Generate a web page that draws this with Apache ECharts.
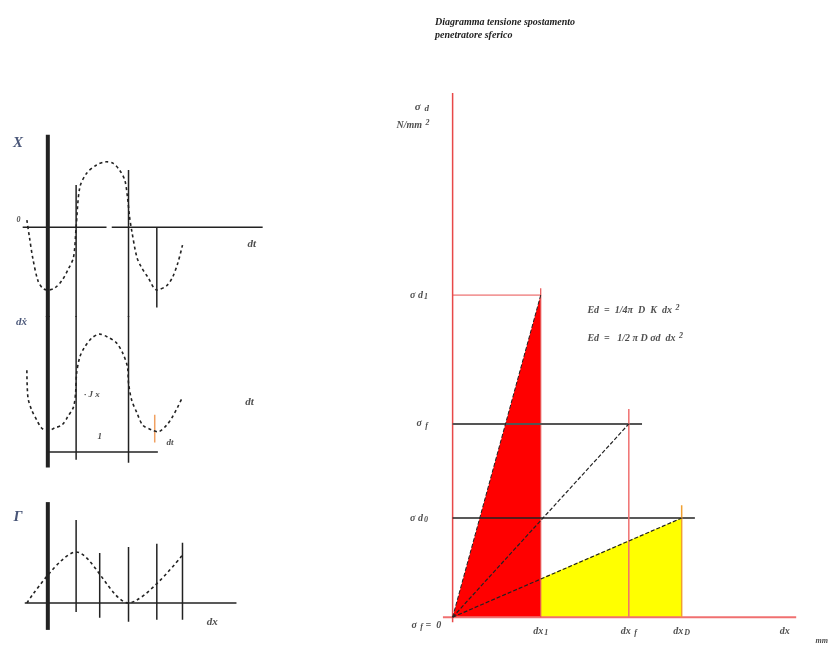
<!DOCTYPE html>
<html>
<head>
<meta charset="utf-8">
<script src="https://cdn.jsdelivr.net/npm/echarts@6/dist/echarts.min.js"></script>
<style>
html, body { margin: 0; padding: 0; background: #fff; }
#main { width: 832px; height: 648px; }
</style>
</head>
<body>
<div id="main"></div>
<script>
// ---- left panels: x(t), dx(t), Gamma(t) --------------------------------
var dispCurve = [[0.06,0.11],[0.11,-0.16],[0.17,-0.47],[0.27,-0.83],[0.36,-0.95],[0.46,-0.98],
    [0.59,-0.95],[0.73,-0.83],[0.84,-0.67],[0.95,-0.47],[1.0,0],[1.07,0.62],[1.2,0.84],[1.39,0.97],
    [1.58,1.02],[1.7,1.0],[1.83,0.89],[1.93,0.73],[1.98,0.47],[2.02,0.16],[2.06,-0.05],[2.16,-0.47],
    [2.25,-0.63],[2.37,-0.78],[2.54,-0.98],[2.73,-0.91],[2.84,-0.78],[2.94,-0.56],[3.03,-0.28]];
var veloCurve = [[0.06,0.24],[0.08,-0.31],[0.15,-0.57],[0.25,-0.78],[0.34,-0.94],[0.46,-1.0],
    [0.59,-0.94],[0.73,-0.88],[0.84,-0.71],[0.95,-0.51],[0.99,-0.22],[1.01,0.18],[1.07,0.51],
    [1.16,0.71],[1.3,0.9],[1.45,0.98],[1.6,0.92],[1.77,0.8],[1.89,0.59],[1.98,0.31],[2.0,-0.02],
    [2.06,-0.37],[2.16,-0.63],[2.27,-0.88],[2.44,-0.98],[2.56,-1.02],[2.73,-0.88],[2.84,-0.71],
    [2.94,-0.51],[3.03,-0.31]];
var gammaCurve = [[0.06,0],[1.0,1.0],[2.0,0],[3.03,0.94]];

// vertical marks [t, top, bottom]
var dispMarks = [[1.0,0.66,-1.4],[2.0,0.89,-1.4],[2.54,0,-1.25]];
var veloMarks = [[1.0,1.35,-1.59],[2.0,1.35,-1.65]];
var gammaMarks = [[1.0,1.63,-0.18],[1.45,0.98,-0.29],[2.0,1.1,-0.37],[2.54,1.16,-0.33],[3.03,1.18,-0.33]];
var tAxisPos = 0.46;

// ---- right panel: tensione / spostamento -------------------------------
var dxTicks = [1.0, 2.0, 2.6];            // dx1, dx f, dx D
var sigmaTicks = [1.0, 1.95, 3.25];       // sigma d0, sigma f, sigma d1
var yellowStart = 0.39;                   // yellow edge at dx1
var xAxisEnd = 3.9, yAxisEnd = 5.29;

var chart = echarts.init(document.getElementById('main'));
var serif = '"Liberation Serif", "DejaVu Serif", serif';
var INK = '#222';

/**
 * segmento semplice su una griglia
 */
function seg(grid, pts, color, width, type, z) {
    return {
        type: 'line', xAxisIndex: grid, yAxisIndex: grid,
        data: pts, symbol: 'none', silent: true, animation: false, z: z || 3,
        lineStyle: { color: color, width: width, type: type || 'solid' }
    };
}

function curve(grid, pts) {
    var s = seg(grid, pts, INK, 1.6, [3, 3], 4);
    s.smooth = 0.3;
    return s;
}

function marks(grid, list, color, width) {
    return list.map(function (m) {
        return seg(grid, [[m[0], m[1]], [m[0], m[2]]], color, width);
    });
}

/**
 * etichette come scatter invisibili
 */
function labels(grid, items) {
    return {
        type: 'scatter', xAxisIndex: grid, yAxisIndex: grid, clip: false,
        symbolSize: 1, itemStyle: { color: 'rgba(0,0,0,0)' }, silent: true, z: 10,
        data: items.map(function (it) {
            var size = it[5] || 10;
            var txt = { fontSize: size - 2, fontStyle: 'italic', fontWeight: 'bold', fontFamily: serif, color: it[6] || INK };
            return {
                value: [it[0], it[1]],
                label: {
                    show: true, formatter: it[2], position: it[3] || 'inside',
                    align: it[4] || 'center', verticalAlign: 'middle',
                    fontFamily: serif, fontStyle: 'italic', fontWeight: 'bold',
                    fontSize: size, color: it[6] || INK,
                    rich: {
                        sub: Object.assign({ padding: [4, 0, 0, 1] }, txt),
                        sup: Object.assign({ padding: [0, 0, 5, 1] }, txt)
                    }
                }
            };
        })
    };
}

function axis(min, max, idx) {
    return { type: 'value', min: min, max: max, gridIndex: idx, show: false };
}

var series = [];

// fills (right)
series.push({
    type: 'line', xAxisIndex: 3, yAxisIndex: 3, symbol: 'none', silent: true, z: 1,
    data: [[0, 0], [dxTicks[0], sigmaTicks[2]], [dxTicks[0], 0]],
    lineStyle: { width: 0 }, areaStyle: { color: '#ff0000', opacity: 1 }
});
series.push({
    type: 'line', xAxisIndex: 3, yAxisIndex: 3, symbol: 'none', silent: true, z: 1,
    data: [[dxTicks[0], yellowStart], [dxTicks[2], sigmaTicks[0]], [dxTicks[2], 0]],
    lineStyle: { width: 0 }, areaStyle: { color: '#ffff00', opacity: 1 }
});

// right panel lines
series.push(seg(3, [[-0.11, 0], [xAxisEnd, 0]], '#f07070', 2));
series.push(seg(3, [[0, -0.05], [0, yAxisEnd]], '#e84848', 1.5));
series.push(seg(3, [[0, sigmaTicks[2]], [dxTicks[0], sigmaTicks[2]]], '#e85050', 1));
series.push(seg(3, [[dxTicks[0], 0], [dxTicks[0], 3.32]], '#e85050', 1.2));
series.push(seg(3, [[0, sigmaTicks[1]], [2.15, sigmaTicks[1]]], '#555', 2));
series.push(seg(3, [[0, sigmaTicks[0]], [2.75, sigmaTicks[0]]], INK, 1.5));
series.push(seg(3, [[dxTicks[1], 0], [dxTicks[1], 2.1]], '#f07070', 1.5));
series.push(seg(3, [[dxTicks[2], 0], [dxTicks[2], 1.13]], '#f0a030', 1.5));
series.push(seg(3, [[0, 0], [dxTicks[0], sigmaTicks[2]]], INK, 1, [4, 2], 4));
series.push(seg(3, [[0, 0], [dxTicks[1], sigmaTicks[1]]], INK, 1.2, [4, 2], 4));
series.push(seg(3, [[0, 0], [dxTicks[2], sigmaTicks[0]]], INK, 1.2, [4, 2], 4));

// panel 1
series.push(seg(0, [[-0.02, 0], [1.58, 0]], INK, 1.5));
series.push(seg(0, [[1.68, 0], [4.56, 0]], INK, 1.5));
series.push(seg(0, [[tAxisPos, 1.44], [tAxisPos, -1.4]], INK, 4));
series = series.concat(marks(0, dispMarks, INK, 1.5));
series.push(curve(0, dispCurve));

// panel 2
series.push(seg(1, [[tAxisPos, 1.35], [tAxisPos, -1.75]], INK, 4));
series = series.concat(marks(1, veloMarks, INK, 1.5));
series.push(seg(1, [[tAxisPos, -1.43], [2.56, -1.43]], INK, 1.5));
series.push(seg(1, [[2.5, -0.67], [2.5, -1.24]], '#f0a060', 1.5));
series.push(curve(1, veloCurve));

// panel 3
series.push(seg(2, [[0.02, 0], [4.06, 0]], INK, 1.5));
series.push(seg(2, [[tAxisPos, 1.98], [tAxisPos, -0.53]], INK, 4));
series = series.concat(marks(2, gammaMarks, INK, 1.5));
series.push(curve(2, gammaCurve));

// labels
series.push(labels(0, [
    [-0.11, 1.31, 'X', 'inside', 'center', 15, '#1a2a55'],
    [-0.1, 0.12, '0', 'inside', 'center', 8],
    [4.35, -0.27, 'dt', 'inside', 'center', 11]
]));
series.push(labels(1, [
    [-0.04, 1.22, 'dẋ', 'inside', 'center', 11, '#1a2a55'],
    [1.3, -0.26, '· J x', 'inside', 'center', 9],
    [1.45, -1.12, '1', 'inside', 'center', 9],
    [2.79, -1.25, 'dt', 'inside', 'center', 9],
    [4.31, -0.41, 'dt', 'inside', 'center', 11]
]));
series.push(labels(2, [
    [-0.11, 1.69, 'Γ', 'inside', 'center', 15, '#1a2a55'],
    [3.6, -0.37, 'dx', 'inside', 'center', 11]
]));
series.push(labels(3, [
    [-0.35, 5.15, 'σ {sub|d}', 'inside', 'center', 11],
    [-0.45, 4.96, 'N/mm {sup|2}', 'inside', 'center', 10],
    [-0.28, sigmaTicks[2], 'σ d{sub|1}', 'inside', 'right', 10],
    [-0.28, sigmaTicks[1], 'σ {sub|f}', 'inside', 'right', 10],
    [-0.28, sigmaTicks[0], 'σ d{sub|0}', 'inside', 'right', 10],
    [-0.13, -0.08, 'σ {sub|f} =  0', 'inside', 'right', 10],
    [dxTicks[0], -0.14, 'dx{sub|1}', 'inside', 'center', 10],
    [dxTicks[1], -0.14, 'dx {sub|f}', 'inside', 'center', 10],
    [dxTicks[2], -0.14, 'dx{sub|D}', 'inside', 'center', 10],
    [3.77, -0.14, 'dx', 'inside', 'center', 10],
    [4.19, -0.24, 'mm', 'inside', 'center', 8],
    [1.53, 3.1, 'Ed  =  1/4π  D  K  dx {sup|2}', 'inside', 'left', 10],
    [1.53, 2.81, 'Ed  =   1/2 π D σd  dx {sup|2}', 'inside', 'left', 10]
]));

var option = {
    backgroundColor: '#fff',
    animation: false,
    title: {
        text: 'Diagramma tensione spostamento\npenetratore sferico',
        left: 430, top: 11,
        textStyle: { fontFamily: serif, fontStyle: 'italic', fontWeight: 'bold', fontSize: 10, lineHeight: 13, color: INK }
    },
    grid: [
        { left: 8, width: 262, top: 131, height: 186 },
        { left: 8, width: 262, top: 316, height: 154 },
        { left: 8, width: 262, top: 496, height: 140 },
        { left: 435, width: 370, top: 82, height: 555 }
    ],
    xAxis: [axis(-0.3, 4.7, 0), axis(-0.3, 4.7, 1), axis(-0.3, 4.7, 2), axis(-0.2, 4.0, 3)],
    yAxis: [axis(-1.4, 1.5, 0), axis(-1.8, 1.35, 1), axis(-0.65, 2.1, 2), axis(-0.2, 5.4, 3)],
    series: series
};

chart.setOption(option);
</script>
</body>
</html>
